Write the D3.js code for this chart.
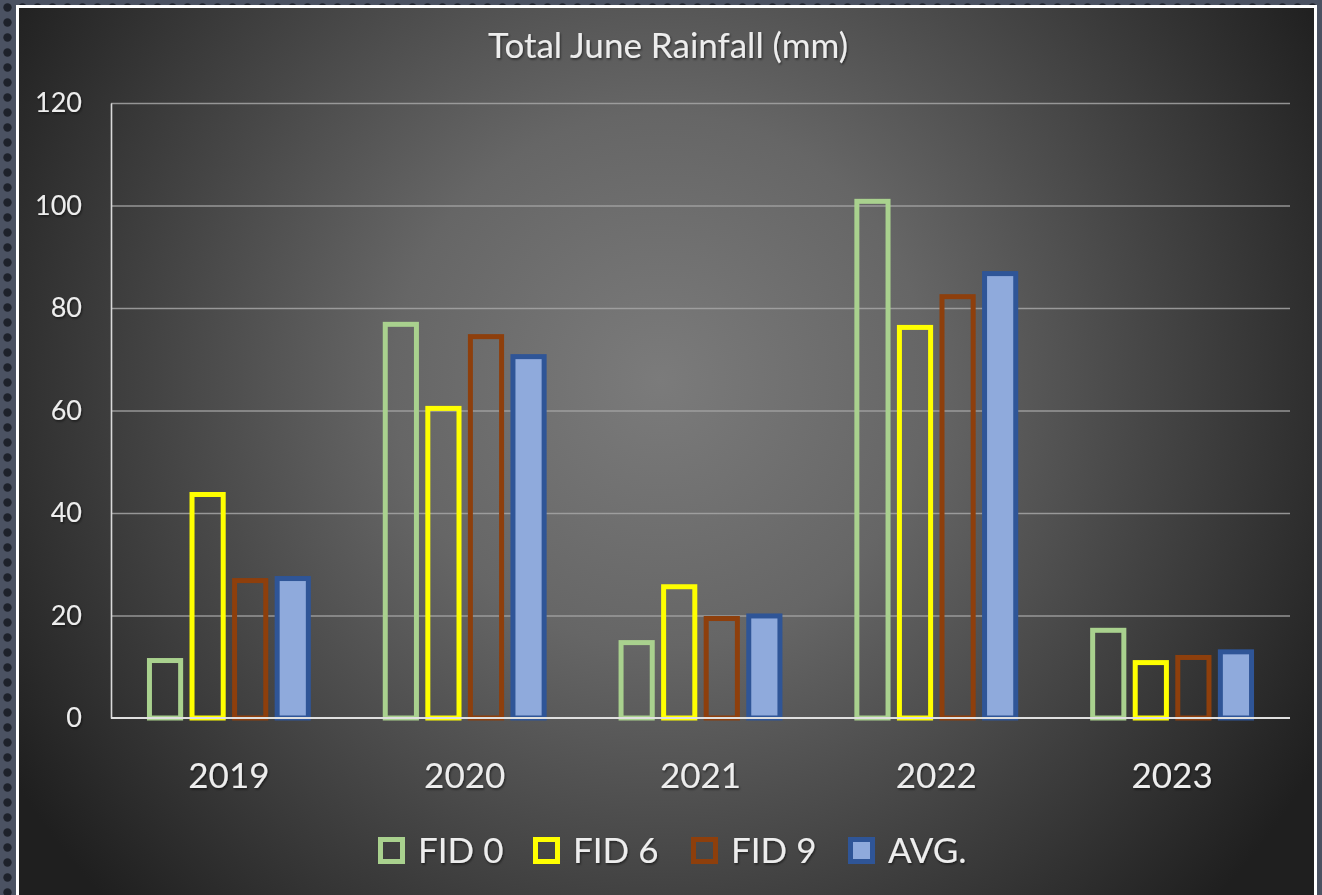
<!DOCTYPE html>
<html>
<head>
<meta charset="utf-8">
<script src="https://cdn.jsdelivr.net/npm/d3@7"></script>
<style>
  html, body { margin: 0; padding: 0; background: #3d4350; }
  svg { display: block; }
</style>
</head>
<body>
<svg id="chart" width="1322" height="895"></svg>
<script>
// Total June rainfall (mm) by year and station
const years = ["2019", "2020", "2021", "2022", "2023"];
const seriesNames = ["FID 0", "FID 6", "FID 9", "AVG."];
const fid0 = [11.7, 77.3, 15.2, 101.3, 17.6];
const fid6 = [44.1, 60.9, 26.1, 76.7, 11.3];
const fid9 = [27.3, 74.9, 19.9, 82.7, 12.3];
const avg  = [27.7, 71.0, 20.4, 87.2, 13.4];
const yTicks = [0, 20, 40, 60, 80, 100, 120];

const seriesValues = [fid0, fid6, fid9, avg];
const strokeColors = ["#a9d18e", "#ffff00", "#8e3f0c", "#2f5597"];
const fillColors = ["none", "none", "none", "#8faadc"];
const font = "Lato, 'Open Sans', sans-serif";
const textColor = "#ededed";

const svg = d3.select("#chart");
const defs = svg.append("defs");

// dotted backdrop outside the chart frame
const pat = defs.append("pattern").attr("id", "dots")
  .attr("width", 15).attr("height", 15).attr("patternUnits", "userSpaceOnUse");
pat.append("rect").attr("width", 15).attr("height", 15).attr("fill", "#4b5262");
pat.append("circle").attr("cx", 7.5).attr("cy", 7.5).attr("r", 4.2).attr("fill", "#1e222b");

// radial shading of the chart area
const rg = defs.append("radialGradient").attr("id", "bg")
  .attr("gradientUnits", "userSpaceOnUse")
  .attr("cx", 660).attr("cy", 380).attr("r", 760);
rg.append("stop").attr("offset", "0%").attr("stop-color", "#7b7b7b");
rg.append("stop").attr("offset", "35%").attr("stop-color", "#666666");
rg.append("stop").attr("offset", "100%").attr("stop-color", "#1f1f1f");

// soft shadow under text
const f = defs.append("filter").attr("id", "tshadow")
  .attr("x", "-20%").attr("y", "-40%").attr("width", "140%").attr("height", "180%");
f.append("feDropShadow").attr("dx", 1).attr("dy", 1.5).attr("stdDeviation", 1.2)
  .attr("flood-color", "#000").attr("flood-opacity", 0.55);

svg.append("rect").attr("width", 1322).attr("height", 895).attr("fill", "url(#dots)");
svg.append("rect").attr("x", 16).attr("y", 5).attr("width", 1301).attr("height", 900)
  .attr("fill", "#ffffff");
svg.append("rect").attr("x", 19).attr("y", 8).attr("width", 1295).attr("height", 900)
  .attr("fill", "url(#bg)");

const margin = { left: 111, right: 1290, top: 103, bottom: 718 };

const x0 = d3.scaleBand().domain(years).range([margin.left, margin.right])
  .paddingInner(0.305).paddingOuter(0.1525);
const x1 = d3.scaleBand().domain(seriesNames).range([0, x0.bandwidth()])
  .paddingInner(0.15);
const y = d3.scaleLinear().domain([0, 120]).range([margin.bottom, margin.top]);

// gridlines
const grid = svg.append("g")
  .attr("transform", `translate(${margin.left},0)`)
  .call(d3.axisLeft(y).tickValues(yTicks.filter(d => d > 0))
    .tickSize(-(margin.right - margin.left)).tickFormat(""));
grid.select(".domain").remove();
grid.selectAll("line").attr("stroke", "#a6a6a6").attr("stroke-width", 1.4).attr("opacity", 0.85);

// y axis labels
const yAxis = svg.append("g")
  .attr("transform", `translate(${margin.left},0)`)
  .call(d3.axisLeft(y).tickValues(yTicks).tickSize(0).tickPadding(29));
yAxis.select(".domain").attr("stroke", "#d9d9d9").attr("stroke-width", 1.6);
yAxis.selectAll("text")
  .attr("fill", textColor).attr("font-family", font)
  .attr("font-size", 27).attr("filter", "url(#tshadow)");

// bars
const groups = svg.append("g").selectAll("g").data(years).join("g")
  .attr("transform", d => `translate(${x0(d)},0)`);
const sw = 5;
groups.selectAll("rect")
  .data((yr, i) => seriesNames.map((s, k) => ({ s, k, v: seriesValues[k][i] })))
  .join("rect")
  .attr("x", d => x1(d.s) + sw / 2)
  .attr("width", x1.bandwidth() - sw)
  .attr("y", d => y(d.v) + sw / 2)
  .attr("height", d => y(0) - y(d.v) - sw / 2)
  .attr("fill", d => fillColors[d.k])
  .attr("stroke", d => strokeColors[d.k])
  .attr("stroke-width", sw);

// baseline
svg.append("line").attr("x1", margin.left).attr("x2", margin.right)
  .attr("y1", y(0)).attr("y2", y(0))
  .attr("stroke", "#e0e0e0").attr("stroke-width", 1.8);

// x axis labels
const xAxis = svg.append("g")
  .attr("transform", `translate(0,${margin.bottom})`)
  .call(d3.axisBottom(x0).tickSize(0).tickPadding(45));
xAxis.select(".domain").remove();
xAxis.selectAll("text")
  .attr("fill", textColor).attr("font-family", font)
  .attr("font-size", 35).attr("filter", "url(#tshadow)");

// title
svg.append("text").attr("x", 668).attr("y", 58).attr("text-anchor", "middle")
  .attr("fill", textColor).attr("font-family", font)
  .attr("font-size", 35).attr("filter", "url(#tshadow)")
  .text("Total June Rainfall (mm)");

// legend
const legendX = [378, 533, 691, 848];
const legend = svg.append("g").selectAll("g").data(seriesNames).join("g")
  .attr("transform", (d, i) => `translate(${legendX[i]},837)`);
legend.append("rect")
  .attr("x", 2.5).attr("y", 2.5).attr("width", 22).attr("height", 22)
  .attr("fill", (d, i) => fillColors[i])
  .attr("stroke", (d, i) => strokeColors[i]).attr("stroke-width", 5);
legend.append("text")
  .attr("x", 40).attr("y", 26)
  .attr("fill", textColor).attr("font-family", font)
  .attr("font-size", 35).attr("filter", "url(#tshadow)")
  .text(d => d);
</script>
</body>
</html>
